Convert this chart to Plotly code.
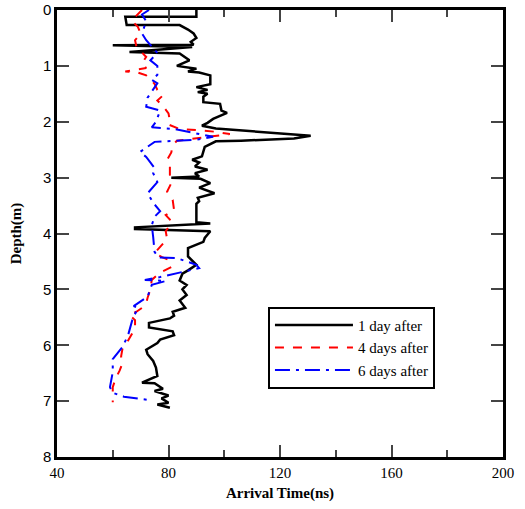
import plotly.graph_objects as go

# 1 day after
t1 = [90, 90, 64.5, 65, 84, 87, 89, 90, 88, 89, 60, 88.5, 66, 84, 87.5, 83, 90, 87, 91, 95, 95, 90, 94, 90.5, 94,
      92.5, 92.5, 98.5, 99, 101, 96, 94, 92, 97, 131, 125, 106, 97, 93, 92, 88.5, 91, 89.5, 94, 89.5, 91, 81,
      91.5, 95, 91, 96.5, 90.5, 91, 90, 90, 95, 68, 68, 95, 93, 92.5, 87, 87, 89, 90, 87, 85, 84, 86.5, 85, 86.5,
      84, 86, 81.5, 82, 80.5, 73, 73, 81.5, 82, 77, 76, 72, 72.5, 74.5, 75.5, 76, 70.5, 75, 78, 75, 80, 77.5, 80,
      76, 80.5]
d1 = [0.0, 0.12, 0.12, 0.27, 0.27, 0.35, 0.42, 0.5, 0.57, 0.62, 0.63, 0.66, 0.75, 0.78, 0.9, 1.0, 1.05, 1.1, 1.12,
      1.17, 1.33, 1.38, 1.43, 1.47, 1.5, 1.55, 1.65, 1.68, 1.8, 1.84, 1.95, 2.02, 2.07, 2.12, 2.25, 2.3, 2.34,
      2.35, 2.45, 2.62, 2.68, 2.73, 2.8, 2.86, 2.92, 2.98, 3.0, 3.02, 3.1, 3.18, 3.28, 3.36, 3.42, 3.47, 3.8, 3.82,
      3.89, 3.92, 3.96, 4.08, 4.15, 4.26, 4.41, 4.5, 4.56, 4.66, 4.72, 4.84, 4.92, 5.0, 5.1, 5.2, 5.33, 5.4, 5.47,
      5.52, 5.6, 5.68, 5.75, 5.82, 5.9, 5.96, 6.08, 6.16, 6.28, 6.4, 6.55, 6.67, 6.68, 6.78, 6.82, 6.9, 6.95, 7.03,
      7.06, 7.12]

# 4 days after
t4 = [70.5, 68.5, 67, 69, 70, 68, 68.5, 72, 70.5, 72, 64.5, 69, 72, 73.5, 75, 76, 78, 76, 78, 80, 80.5, 80, 84, 90,
      97, 102, 92, 83, 81.5, 81, 79.5, 80.5, 80.5, 81, 79.5, 81.5, 82, 79, 80.5, 81, 79, 79.5, 77, 75, 77.5, 80,
      81, 77, 74, 73.5, 72.5, 72, 70.5, 68.5, 66, 68, 68, 65, 63.5, 63, 63.5, 62.5, 61, 60, 60]
d4 = [0.0, 0.1, 0.2, 0.3, 0.42, 0.54, 0.66, 0.84, 0.95, 1.04, 1.1, 1.12, 1.17, 1.25, 1.32, 1.43, 1.53, 1.62, 1.72,
      1.85, 1.98, 2.05, 2.13, 2.15, 2.18, 2.22, 2.28, 2.34, 2.42, 2.55, 2.68, 2.8, 2.95, 3.1, 3.25, 3.4, 3.58,
      3.67, 3.75, 3.82, 3.96, 4.1, 4.24, 4.35, 4.42, 4.47, 4.6, 4.7, 4.83, 5.0, 5.15, 5.25, 5.33, 5.4, 5.46, 5.55,
      5.7, 5.96, 6.06, 6.2, 6.32, 6.45, 6.6, 6.75, 7.02]

# 6 days after
t6 = [73, 70.5, 72, 70.5, 72, 73, 76, 73.5, 76, 76, 74, 76, 72.5, 72, 77, 75.5, 74, 82, 96, 90, 81, 75, 69.8, 72,
      75, 74.5, 76, 72.5, 74.5, 77, 75, 74, 74.5, 75, 76.5, 83, 90, 91, 77, 71.5, 79, 74, 72.5, 67.5, 69, 67,
      65.5, 63.5, 60, 60, 59, 60, 64, 69.5, 73]
d6 = [0.0, 0.08, 0.2, 0.42, 0.54, 0.6, 0.77, 0.9, 1.0, 1.16, 1.25, 1.31, 1.57, 1.73, 1.8, 2.0, 2.1, 2.13, 2.27,
      2.32, 2.35, 2.36, 2.54, 2.63, 2.83, 2.92, 3.08, 3.28, 3.45, 3.6, 3.7, 3.85, 4.06, 4.33, 4.43, 4.44, 4.56,
      4.62, 4.78, 4.83, 4.85, 4.92, 5.13, 5.3, 5.33, 5.55, 5.82, 6.03, 6.25, 6.48, 6.75, 6.85, 6.92, 6.95, 6.98]

x_ticks = [40, 80, 120, 160, 200]
y_ticks = [0, 1, 2, 3, 4, 5, 6, 7, 8]

fig = go.Figure()
fig.add_trace(go.Scatter(x=t1, y=d1, mode="lines", name="1 day after",
                         line=dict(color="black", width=2.5)))
fig.add_trace(go.Scatter(x=t4, y=d4, mode="lines", name="4 days after",
                         line=dict(color="red", width=2, dash="dash")))
fig.add_trace(go.Scatter(x=t6, y=d6, mode="lines", name="6 days after",
                         line=dict(color="blue", width=2, dash="longdashdot")))

fig.update_layout(
    width=525, height=509,
    margin=dict(l=57, r=22, t=10, b=52, autoexpand=False),
    paper_bgcolor="white", plot_bgcolor="white",
    font=dict(family="Liberation Serif", color="black", size=15),
    showlegend=True,
    legend=dict(x=0.473, y=0.336, xanchor="left", yanchor="top",
                bgcolor="white", bordercolor="black", borderwidth=2,
                font=dict(family="Liberation Serif", size=15, color="black"),
                tracegroupgap=0, itemwidth=78, entrywidth=165),
)
fig.update_xaxes(range=[40, 200], tickvals=x_ticks, ticks="inside", ticklen=12, tickwidth=2,
                 showline=True, linecolor="black", linewidth=2.5, mirror="ticks",
                 showgrid=False, zeroline=False, automargin=False,
                 minor=dict(dtick=20, ticks="inside", ticklen=7, tickwidth=2, showgrid=False),
                 tickfont=dict(family="Liberation Serif", size=15),
                 title=dict(text="<b>Arrival Time(ns)</b>", font=dict(family="Liberation Serif", size=15),
                            standoff=8))
fig.update_yaxes(range=[8, 0], tickvals=y_ticks, ticks="inside", ticklen=12, tickwidth=2,
                 showline=True, linecolor="black", linewidth=2.5, mirror="ticks",
                 showgrid=False, zeroline=False, automargin=False,
                 tickfont=dict(family="Liberation Sans", size=15),
                 title=dict(text="<b>Depth(m)</b>", font=dict(family="Liberation Serif", size=15),
                            standoff=18))

fig.write_html("out.html")
